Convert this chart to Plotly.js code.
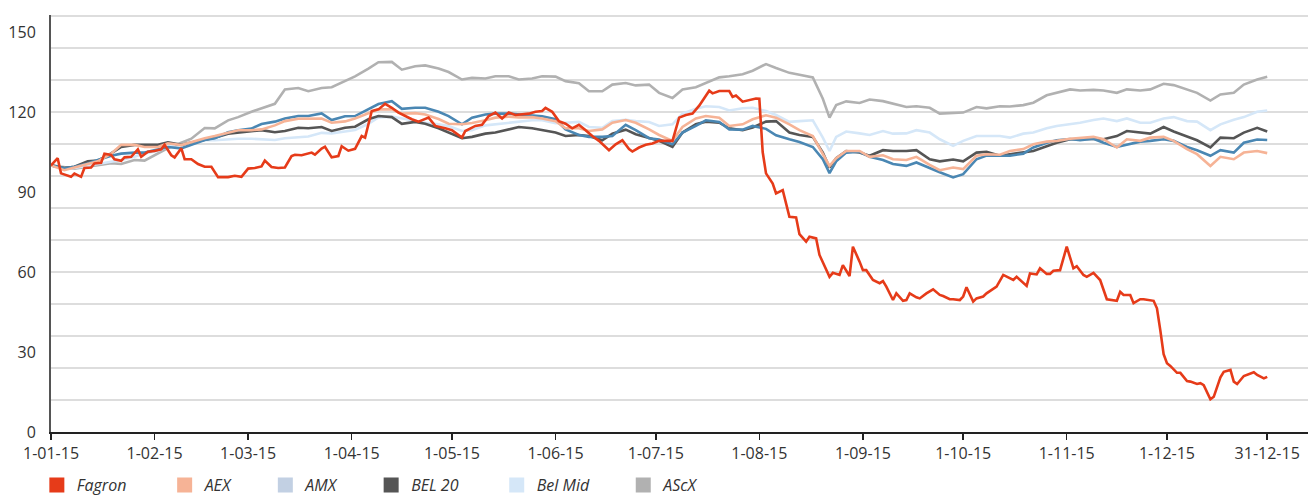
<!DOCTYPE html>
<html>
<head>
<meta charset="utf-8">
<script src="https://cdn.plot.ly/plotly-3.0.1.min.js"></script>
<style>html,body{margin:0;padding:0;background:#fff;}#chart{width:1316px;height:497px;}</style>
</head>
<body>
<div id="chart"></div>
<script>
// ---- data ----
const seriesNames = ['Fagron', 'AEX', 'AMX', 'BEL 20', 'Bel Mid', 'AScX'];

const tickDates = ['2015-01-01','2015-02-01','2015-03-01','2015-04-01','2015-05-01','2015-06-01','2015-07-01','2015-08-01','2015-09-01','2015-10-01','2015-11-01','2015-12-01','2015-12-31'];
const tickLabels = ['1-01-15','1-02-15','1-03-15','1-04-15','1-05-15','1-06-15','1-07-15','1-08-15','1-09-15','1-10-15','1-11-15','1-12-15','31-12-15'];
const yTickValues = [0, 30, 60, 90, 120, 150];

const indexDates = ['2015-01-01','2015-01-05','2015-01-08','2015-01-12','2015-01-15','2015-01-19','2015-01-22','2015-01-26','2015-01-29','2015-02-02',
  '2015-02-05','2015-02-09','2015-02-12','2015-02-16','2015-02-19','2015-02-23','2015-02-26','2015-03-02','2015-03-05','2015-03-09',
  '2015-03-12','2015-03-16','2015-03-19','2015-03-23','2015-03-26','2015-03-30','2015-04-02','2015-04-06','2015-04-09','2015-04-13',
  '2015-04-16','2015-04-20','2015-04-23','2015-04-27','2015-04-30','2015-05-04','2015-05-07','2015-05-11','2015-05-14','2015-05-18',
  '2015-05-21','2015-05-25','2015-05-28','2015-06-01','2015-06-04','2015-06-08','2015-06-11','2015-06-15','2015-06-18','2015-06-22',
  '2015-06-25','2015-06-29','2015-07-02','2015-07-06','2015-07-09','2015-07-13','2015-07-16','2015-07-20','2015-07-23','2015-07-27',
  '2015-07-30','2015-08-03','2015-08-06','2015-08-10','2015-08-13','2015-08-17','2015-08-20','2015-08-22','2015-08-24','2015-08-27',
  '2015-08-31','2015-09-03','2015-09-07','2015-09-10','2015-09-14','2015-09-17','2015-09-21','2015-09-24','2015-09-28','2015-10-01',
  '2015-10-05','2015-10-08','2015-10-12','2015-10-15','2015-10-19','2015-10-22','2015-10-26','2015-10-29','2015-11-02','2015-11-05',
  '2015-11-09','2015-11-12','2015-11-16','2015-11-19','2015-11-23','2015-11-26','2015-11-30','2015-12-03','2015-12-07','2015-12-10',
  '2015-12-14','2015-12-17','2015-12-21','2015-12-24','2015-12-28','2015-12-31'];

const ascxValues = [100,99.3,98.8,99.5,100,100.8,100.5,102,101.8,104.5,
  106.5,108.5,110,114,113.9,116.9,118.1,120.1,121.3,123.1,
  128.5,129,127.8,129,129.3,131.8,133.4,136.3,138.7,138.8,
  135.9,137.2,137.5,136.3,135,132.2,132.8,132.6,133.4,133.4,
  132.2,132.6,133.4,133.3,131.6,130.8,127.8,127.8,130.3,130.9,
  130,130.3,127.2,125.3,128.5,129.3,131,133,133.4,134.2,
  135.5,138,136.5,134.7,134,133,125,117.9,122.6,124,
  123.4,124.7,124.1,123.1,121.9,122.2,121.6,119.4,119.7,119.8,
  121.9,121.4,122.2,122.1,122.6,123.5,126.3,127.2,128.5,128.1,
  128.3,128.1,127.2,128.5,128.1,128.5,130.6,130.1,128.5,127.2,
  124.3,126.6,127.2,130.3,132.2,133.2];
const amxValues = [100,98.9,99.5,100.7,102,103.6,104.4,104.8,104.8,106.1,
  106.9,106.4,107.7,109.5,110.2,112.4,113.2,113.8,115.5,116.4,
  117.6,118.5,118.5,119.5,117,118.4,118.5,121,123,124.1,
  121.2,121.6,121.6,120.1,118.5,115.4,117.9,119.1,119.4,119.4,
  119.1,118.5,118.4,117.3,113.5,111.4,110.7,110.7,111,115.2,
  113.2,110.2,109.7,107.9,112.3,114.8,116.9,116.3,113.5,113.4,
  114.8,113.7,111.3,109.8,108.8,106.9,102.3,97.1,101.5,104.8,
  105.1,103.2,102,100.5,99.8,101.1,98.9,97.4,95.5,96.7,
  102.3,103.7,103.6,103.6,104.4,106.7,108.5,109.4,109.9,109.4,
  110,108.5,106.9,107.7,108.9,109.2,109.8,109.2,106.9,105.7,
  103.6,105.7,104.8,108.5,109.7,109.5];
const aexValues = [100,98.2,99.2,100.5,101.5,104.4,107.7,107.7,106.9,106.9,
  108.3,107.6,108.8,110.2,111,112.4,113.2,113.2,113.5,115,
  116.6,117.5,117.6,117.6,116,116.5,117.6,119.4,121,121,
  119.4,119.6,119.1,117.4,115.6,115.4,115.9,116.9,117.9,118.3,
  118,118.1,117.6,116.6,113.9,113.9,112.9,113.5,116,117,
  116,113.5,111.4,109.2,114.4,117.6,118.5,117.9,114.8,115.4,
  117.3,118.8,117.9,115.4,113.2,111,104.2,99.8,102.7,105.4,
  105.4,103.2,103.8,102.3,102,103.2,100.2,98.2,99.2,98.6,
  103.6,104.2,104,105.4,106.1,107.9,108.9,109.2,110,110.4,
  110.7,109.8,106.7,109.8,109.2,110.4,110.7,109.2,106.1,104.2,
  99.8,103.2,102.3,104.8,105.4,104.6];
const bel20Values = [100,99,99.5,101.5,101.8,104.5,106.9,107.7,107.7,107.7,
  108.6,107.7,108.6,109.7,110.4,111.9,112.3,112.8,113.2,112.4,
  112.9,114.1,113.9,114.4,112.9,114.1,114.5,117.3,118.5,118.1,
  115.6,116.3,115.6,113.9,112.3,110.2,110.7,111.9,112.3,113.5,
  114.4,113.9,113.2,112.3,111,111.4,111,109.4,111.9,113.4,
  111.7,110.4,109.2,106.9,112.3,115.4,116.4,116,113.9,113.2,
  114.2,116.4,116.6,112.3,111.4,110.7,104.8,99.2,102.7,105.4,
  104.8,103.6,105.7,105.4,105.4,105.7,102.3,101.5,102.2,101.5,
  104.8,105.1,103.6,104.2,104.8,105.4,107.2,108.5,109.8,110,
  110,109.8,111,112.9,112.2,111.9,114.4,112.7,110.8,109.4,
  106.7,110.4,110.2,112.3,114.1,112.7];
const belMidValues = [100,98.8,99,99.8,100.5,101.2,102,103.2,104.5,105.5,
  107,107.8,108.6,109.4,109.4,109.8,110,110,109.8,109.5,
  110.2,110.5,110.8,112.2,112,112.7,113.3,115.6,118,118.3,
  117.6,116.9,116,115.4,114.8,112.9,113.2,115,115.4,116.1,
  116.4,116.9,116.9,115.8,116,116.3,114.4,114.1,116.6,117.1,
  116.6,116.3,114.8,115.4,119.4,121.2,122.2,121.9,120.6,121.4,
  121.6,120.4,118.9,116.3,116.6,116.9,110.4,105.4,110.7,112.7,
  112,111.4,112.9,111.9,112,113.2,112.3,109.8,107.3,109.2,
  111,111,111,110.4,111.9,112.3,113.9,114.8,115.4,116,
  117,117.6,116.6,117.6,116,116,117.6,118.1,116.6,116.4,
  113.2,115.4,117.1,118.1,120.1,120.6];

const fagronDates = ['2015-01-01','2015-01-03','2015-01-04','2015-01-07','2015-01-08','2015-01-10','2015-01-11','2015-01-13','2015-01-14','2015-01-16','2015-01-17','2015-01-19','2015-01-20','2015-01-22','2015-01-23','2015-01-25','2015-01-27','2015-01-28','2015-01-30','2015-02-01','2015-02-03','2015-02-04','2015-02-06','2015-02-07','2015-02-09','2015-02-10','2015-02-12','2015-02-14','2015-02-16','2015-02-18','2015-02-20','2015-02-23','2015-02-25','2015-02-27','2015-03-01','2015-03-03','2015-03-05','2015-03-06','2015-03-08','2015-03-10','2015-03-12','2015-03-14','2015-03-15','2015-03-17','2015-03-20','2015-03-21','2015-03-23','2015-03-24','2015-03-26','2015-03-28','2015-03-29','2015-03-31','2015-04-02','2015-04-04','2015-04-05','2015-04-07','2015-04-09','2015-04-11','2015-04-13','2015-04-15','2015-04-19','2015-04-21','2015-04-24','2015-04-26','2015-04-29','2015-05-01','2015-05-04','2015-05-05','2015-05-08','2015-05-10','2015-05-12','2015-05-14','2015-05-16','2015-05-18','2015-05-20','2015-05-22','2015-05-24','2015-05-26','2015-05-28','2015-05-29','2015-05-31','2015-06-02','2015-06-04','2015-06-06','2015-06-08','2015-06-10','2015-06-12','2015-06-14','2015-06-17','2015-06-19','2015-06-21','2015-06-23','2015-06-24','2015-06-26','2015-06-28','2015-06-30','2015-07-02','2015-07-06','2015-07-08','2015-07-10','2015-07-12','2015-07-14','2015-07-17','2015-07-18','2015-07-20','2015-07-23','2015-07-24','2015-07-25','2015-07-27','2015-07-31','2015-08-01','2015-08-02','2015-08-03','2015-08-05','2015-08-06','2015-08-08','2015-08-09','2015-08-10','2015-08-12','2015-08-13','2015-08-15','2015-08-16','2015-08-18','2015-08-19','2015-08-22','2015-08-23','2015-08-25','2015-08-26','2015-08-28','2015-08-29','2015-08-31','2015-09-01','2015-09-02','2015-09-04','2015-09-06','2015-09-07','2015-09-08','2015-09-10','2015-09-11','2015-09-13','2015-09-14','2015-09-15','2015-09-17','2015-09-18','2015-09-20','2015-09-22','2015-09-24','2015-09-25','2015-09-27','2015-09-28','2015-09-30','2015-10-01','2015-10-02','2015-10-04','2015-10-05','2015-10-07','2015-10-08','2015-10-10','2015-10-11','2015-10-13','2015-10-14','2015-10-16','2015-10-17','2015-10-20','2015-10-21','2015-10-23','2015-10-24','2015-10-26','2015-10-27','2015-10-28','2015-10-30','2015-11-01','2015-11-03','2015-11-04','2015-11-06','2015-11-07','2015-11-09','2015-11-11','2015-11-13','2015-11-15','2015-11-16','2015-11-17','2015-11-18','2015-11-20','2015-11-21','2015-11-23','2015-11-24','2015-11-27','2015-11-28','2015-11-29','2015-11-30','2015-12-01','2015-12-02','2015-12-04','2015-12-05','2015-12-07','2015-12-08','2015-12-10','2015-12-11','2015-12-12','2015-12-14','2015-12-15','2015-12-17','2015-12-18','2015-12-20','2015-12-21','2015-12-22','2015-12-24','2015-12-25','2015-12-27','2015-12-28','2015-12-30','2015-12-31'];
const fagronValues = [100,102.7,97,95.7,96.9,95.7,99,99.2,100.7,101,104.4,103.9,102.3,101.7,103,103.2,106,103.2,105.1,105.4,106,107.7,103.8,103,106.4,102.3,102.3,100.5,99.5,99.5,95.6,95.6,96.1,95.7,98.8,99,99.6,101.8,99.4,99,99.2,103.5,104,103.8,104.8,104,106.3,107,103,103.5,107.2,105.5,106.2,111,110.4,120.4,121,123.1,121.6,119.8,117.3,116.4,117.9,114.8,113.9,113.2,110.4,112.9,114.8,115.2,118.5,119.8,117.6,119.8,118.9,119.1,119.4,120.1,120.4,121.6,120.1,116.6,115.6,113.9,115.2,113.2,111,109.2,105.7,107.9,109.4,106.1,105.2,106.7,107.7,108.2,109.2,109.2,117.9,118.9,119.4,122.4,128,127,127.9,127.9,125.7,126.2,123.9,125.1,125,105,97,93.2,89.5,90.7,85.8,80.7,80.5,74.2,71.4,73.2,72.6,66.4,58.2,59.7,58.9,62.6,58.5,69.5,63.9,60.7,60.7,57,55.8,56.6,54.5,49.5,52,49.2,49.5,52,50.5,50.1,52,53.5,51.4,51,49.8,49.8,49.5,50.8,54.3,48.9,50.1,50.8,52,53.9,54.5,58.9,58.2,57,58.2,54.8,59.5,59.1,61.4,59.3,59.3,60.5,60.7,69.5,61.4,62.2,58.9,58.2,59.7,57,49.8,49.5,49.2,52.6,51.4,51.4,48.3,49.8,49.8,49.2,46.4,38.2,29.2,25.8,24.8,22.2,22.2,19.1,18.9,18,18.3,17.6,12.3,13.2,20.5,22.6,23.3,18.9,18,21,21.4,22.4,21.4,20.1,20.7];

// ---- styles ----
const lineColors = {'Fagron':'#e63b19','AEX':'#f6b396','AMX':'#4a87b3','BEL 20':'#555555','Bel Mid':'#d5e7f8','AScX':'#b1b1b1'};
const legendColors = {'Fagron':'#e63b19','AEX':'#f6b396','AMX':'#c2d0e3','BEL 20':'#555555','Bel Mid':'#d5e7f8','AScX':'#b1b1b1'};
const legendPadCount = {'Fagron':8,'AEX':7,'AMX':7,'BEL 20':8,'Bel Mid':7,'AScX':0};
const FONT = '"Open Sans", "Noto Sans", sans-serif';

function lineTrace(name, x, y, w) {
  return {type:'scatter', mode:'lines', name:name, x:x, y:y, showlegend:false, hoverinfo:'skip',
          line:{color:lineColors[name], width:w}};
}

const traces = [
  lineTrace('AScX', indexDates, ascxValues, 2.6),
  lineTrace('Bel Mid', indexDates, belMidValues, 2.6),
  lineTrace('BEL 20', indexDates, bel20Values, 2.6),
  lineTrace('AMX', indexDates, amxValues, 2.6),
  lineTrace('AEX', indexDates, aexValues, 2.6),
  lineTrace('Fagron', fagronDates, fagronValues, 2.6)
];
seriesNames.forEach(function(n, i){
  traces.push({type:'scatter', mode:'markers', name: n + '\u00a0'.repeat(legendPadCount[n]), x:[null], y:[null],
    yaxis: i === 0 ? 'y2' : 'y', hoverinfo:'skip', showlegend:true,
    marker:{symbol:'square', size:15, color:legendColors[n]}});
});

const yMax = 156.4;
const layout = {
  width:1316, height:497,
  margin:{l:51, r:8, t:15, b:65, pad:0},
  paper_bgcolor:'#ffffff', plot_bgcolor:'#ffffff',
  font:{family:FONT, size:16, color:'#333333'},
  showlegend:true,
  legend:{orientation:'h', xref:'container', yref:'container', x:0.028, xanchor:'left', y:0.024, yanchor:'middle',
          font:{family:FONT, size:16, color:'#333333', style:'italic'}, bgcolor:'rgba(0,0,0,0)', traceorder:'normal', itemclick:false},
  xaxis:{type:'date', range:['2015-01-01','2016-01-12 05:00'], tickmode:'array', tickvals:tickDates, ticktext:tickLabels,
         showgrid:false, zeroline:false, showline:true, linecolor:'#222222', linewidth:1.6,
         ticks:'outside', ticklen:6, tickwidth:1.5, tickcolor:'#222222',
         tickfont:{family:FONT, size:16, color:'#333333'}, fixedrange:true},
  yaxis:{range:[0,yMax], tickmode:'array', tickvals:yTickValues, showgrid:false, zeroline:false,
         showline:true, linecolor:'#555555', linewidth:2, ticks:'', ticklabelstandoff:10,
         tickfont:{family:FONT, size:16, color:'#333333'}, fixedrange:true},
  yaxis2:{overlaying:'y', range:[0,yMax], tick0:0, dtick:12, showgrid:true, gridcolor:'#dddddd', gridwidth:1.3,
          showticklabels:false, zeroline:false, showline:false, ticks:'', fixedrange:true}
};

Plotly.newPlot('chart', traces, layout, {staticPlot:true, displayModeBar:false});
</script>
</body>
</html>
